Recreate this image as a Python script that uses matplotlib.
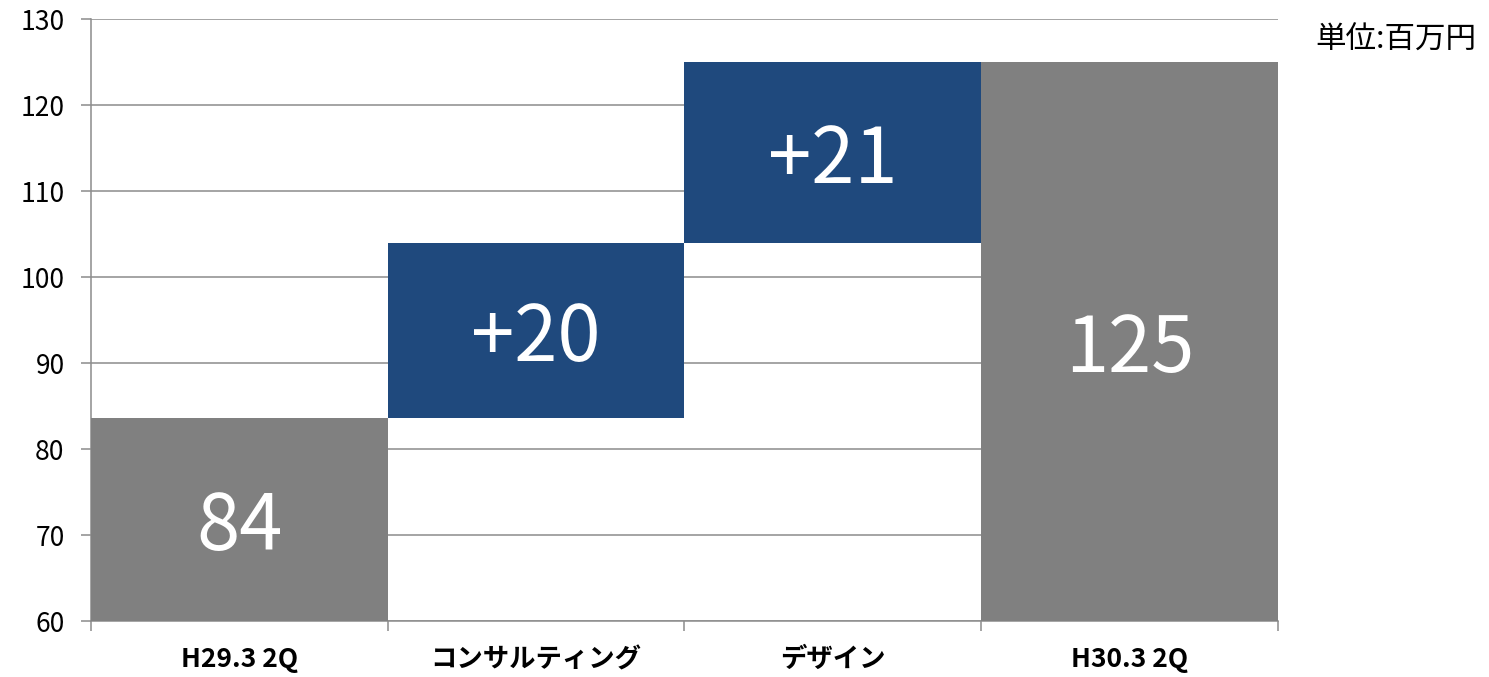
import numpy as np
import matplotlib
matplotlib.use('Agg')
import matplotlib.pyplot as plt
from matplotlib.ticker import FixedLocator

plt.rcParams['font.family'] = ['Noto Sans CJK JP', 'DejaVu Sans']

# data
categories = ['H29.3 2Q', 'コンサルティング', 'デザイン', 'H30.3 2Q']
bar_bottoms = [60, 83.6, 104.0, 60]
bar_tops = [83.6, 104.0, 125.0, 125.0]
bar_labels = ['84', '+20', '+21', '125']
bar_colors = ['#808080', '#1F497D', '#1F497D', '#808080']
y_ticks = [60, 70, 80, 90, 100, 110, 120, 130]

fig = plt.figure(figsize=(14.89, 6.77), dpi=100)
ax = fig.add_axes([0.0611, 0.0827, 0.8583 - 0.0611, 0.9719 - 0.0827])

x = np.arange(len(categories))
heights = np.array(bar_tops) - np.array(bar_bottoms)
ax.bar(x, heights, bottom=bar_bottoms, width=1.0, color=bar_colors, zorder=3)

for xi, b, t, lab in zip(x, bar_bottoms, bar_tops, bar_labels):
    ax.text(xi, (b + t) / 2 - 1.0, lab, ha='center', va='center', color='white',
            fontsize=56, zorder=4)

ax.set_xlim(-0.5, 3.5)
ax.set_ylim(60, 130)
ax.set_yticks(y_ticks)
ax.set_yticklabels([str(v) for v in y_ticks], fontsize=19)
ax.yaxis.grid(True, color='#8c8c8c', linewidth=1.1, zorder=0)

ax.set_xticks(x)
ax.set_xticklabels(categories, fontsize=19, fontweight='bold')
ax.xaxis.set_minor_locator(FixedLocator([-0.5, 0.5, 1.5, 2.5, 3.5]))
ax.tick_params(axis='x', which='major', length=0, pad=18)
ax.tick_params(axis='x', which='minor', length=7, color='#8c8c8c', width=1.1)
ax.tick_params(axis='y', length=7, color='#8c8c8c', width=1.1, pad=12)

for s in ['top', 'right']:
    ax.spines[s].set_visible(False)
for s in ['left', 'bottom']:
    ax.spines[s].set_color('#8c8c8c')
    ax.spines[s].set_linewidth(1.1)

fig.text(0.9915, 0.94, '単位:百万円', ha='right', va='center', fontsize=22)

fig.savefig('out.png', dpi=100)
